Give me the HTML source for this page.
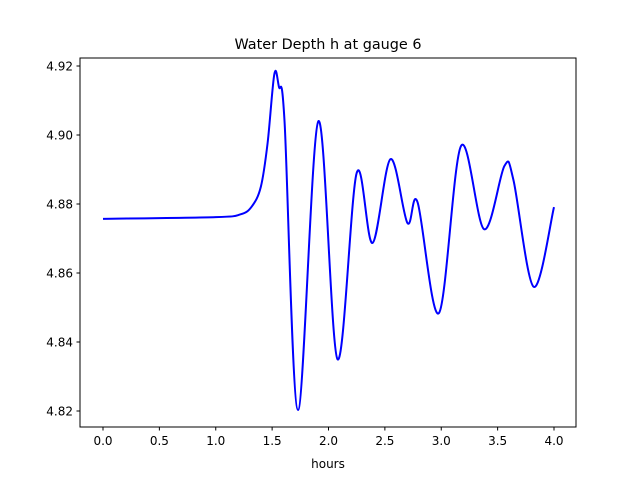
<!DOCTYPE html>
<html><head><meta charset="utf-8"><style>
body{margin:0;background:#fff}
svg text{font-family:"DejaVu Sans","Liberation Sans",sans-serif;fill:#000}
</style></head><body>
<svg width="640" height="480">
<rect x="0" y="0" width="640" height="480" fill="#fff"/>
<text x="328" y="49" text-anchor="middle" font-size="14.4">Water Depth h at gauge 6</text>
<g id="plot"></g>
<rect x="80" y="58" width="496" height="369" fill="none" stroke="#000" stroke-width="1"/>
<text x="328" y="468" text-anchor="middle" font-size="12">hours</text>
<g id="xt"></g><g id="yt"></g>
</svg>
<script>
const hours=[0,1.0,1.22,1.32,1.40,1.46,1.52,1.56,1.61,1.73,1.91,2.08,2.25,2.39,2.55,2.70,2.79,2.98,3.175,3.38,3.56,3.64,3.82,4.0];
const depth=[4.8757,4.8762,4.877,4.8793,4.8850,4.8977,4.9177,4.914,4.904,4.8203,4.904,4.835,4.889,4.8687,4.893,4.8745,4.8805,4.8484,4.8968,4.8727,4.891,4.887,4.856,4.8791];
const xTicks=[0,0.5,1.0,1.5,2.0,2.5,3.0,3.5,4.0];
const yTicks=[4.82,4.84,4.86,4.88,4.90,4.92];
const NS="http://www.w3.org/2000/svg";
const X=h=>103+h*112.75;
const Y=v=>66+(4.92-v)*3450;
const xt=document.getElementById('xt'),yt=document.getElementById('yt'),plot=document.getElementById('plot');
xTicks.forEach(t=>{
 const l=document.createElementNS(NS,'line');l.setAttribute('x1',X(t));l.setAttribute('x2',X(t));l.setAttribute('y1',427);l.setAttribute('y2',430.5);l.setAttribute('stroke','#000');
 
 
 xt.appendChild(l);
 const s=document.createElementNS(NS,'text');s.setAttribute('x',X(t));s.setAttribute('y',445);s.setAttribute('text-anchor','middle');s.setAttribute('font-size','12');s.textContent=t.toFixed(1);
 
 
 xt.appendChild(s);
});
yTicks.forEach(t=>{
 const l=document.createElementNS(NS,'line');l.setAttribute('x1',76.5);l.setAttribute('x2',80);l.setAttribute('y1',Y(t));l.setAttribute('y2',Y(t));l.setAttribute('stroke','#000');
 
 
 yt.appendChild(l);
 const s=document.createElementNS(NS,'text');s.setAttribute('x',73);s.setAttribute('y',Y(t)+4.5);s.setAttribute('text-anchor','end');s.setAttribute('font-size','12');s.textContent=t.toFixed(2);
 
 
 yt.appendChild(s);
});
const P=hours.map((h,i)=>[X(h),Y(depth[i])]);
let d='M'+P[0][0]+','+P[0][1];
for(let i=0;i<P.length-1;i++){
 const p0=P[Math.max(0,i-1)],p1=P[i],p2=P[i+1],p3=P[Math.min(P.length-1,i+2)];
 const c1=[p1[0]+(p2[0]-p0[0])/6,p1[1]+(p2[1]-p0[1])/6];
 const c2=[p2[0]-(p3[0]-p1[0])/6,p2[1]-(p3[1]-p1[1])/6];
 d+=` C${c1[0]},${c1[1]} ${c2[0]},${c2[1]} ${p2[0]},${p2[1]}`;
}
const path=document.createElementNS(NS,'path');
path.setAttribute('d',d);path.setAttribute('fill','none');path.setAttribute('stroke','#0000ff');path.setAttribute('stroke-width','2');


plot.appendChild(path);
</script>
</body></html>
